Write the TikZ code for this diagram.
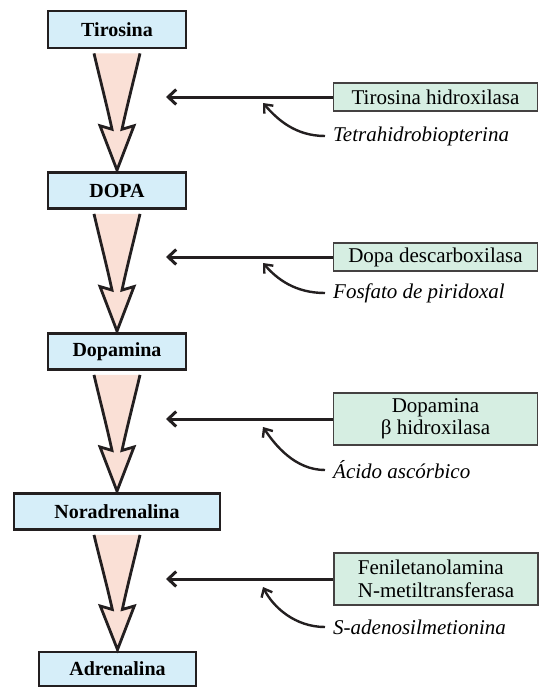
\documentclass[tikz,border=0pt]{standalone}
\usepackage{fontspec}
\setmainfont{Liberation Serif}
\usetikzlibrary{arrows.meta,calc}
\definecolor{bluebox}{RGB}{214,238,249}
\definecolor{greenbox}{RGB}{214,238,226}
\definecolor{pinkfill}{RGB}{250,224,214}
\definecolor{edge}{RGB}{35,31,32}
\newcommand\bigarr[2]{%
  \coordinate (ta) at ($(#1.south)+(0,4)$);
  \coordinate (tb) at ($(#2.north)+(0,-1)$);
  \fill[arrfill] ($(ta)+(-23,0)$) .. controls ($(ta)!0.22!(tb)+(-17,0)$) and ($(ta)!0.45!(tb)+(-10,0)$) .. ($(ta)!0.65!(tb)+(-5,0)$) -- ($(ta)!0.62!(tb)+(-17,0)$) -- (tb) -- ($(ta)!0.62!(tb)+(17,0)$) -- ($(ta)!0.65!(tb)+(5,0)$) .. controls ($(ta)!0.45!(tb)+(10,0)$) and ($(ta)!0.22!(tb)+(17,0)$) .. ($(ta)+(23,0)$) -- cycle;
  \draw[arredge] ($(ta)+(-23,0)$) .. controls ($(ta)!0.22!(tb)+(-17,0)$) and ($(ta)!0.45!(tb)+(-10,0)$) .. ($(ta)!0.65!(tb)+(-5,0)$) -- ($(ta)!0.62!(tb)+(-17,0)$) -- (tb) -- ($(ta)!0.62!(tb)+(17,0)$) -- ($(ta)!0.65!(tb)+(5,0)$) .. controls ($(ta)!0.45!(tb)+(10,0)$) and ($(ta)!0.22!(tb)+(17,0)$) .. ($(ta)+(23,0)$);
}
\begin{document}
\begin{tikzpicture}[x=1pt,y=-1pt,
  mol/.style={draw=edge, line width=2.8pt, fill=bluebox, minimum height=36pt, inner sep=0pt, font=\fontsize{20}{22}\selectfont\bfseries},
  enz/.style={draw=edge!85, line width=1.6pt, fill=greenbox, minimum width=204pt, inner sep=0pt, font=\fontsize{21}{22.5}\selectfont, align=center},
  cof/.style={anchor=west, inner sep=0pt, font=\fontsize{21}{22}\selectfont\itshape},
  inh/.style={draw=edge, line width=3pt, -{Straight Barb[length=8pt,width=15pt]}},
  cur/.style={draw=edge, line width=2.4pt, -{Straight Barb[length=7pt,width=12pt]}},
  arrfill/.style={fill=pinkfill},
  arredge/.style={draw=edge, line width=2.8pt, line join=miter}
]
\useasboundingbox (0,0) rectangle (541,688);
% molecules
\node[mol, minimum width=138pt, minimum height=37pt] (tir) at (117,29.5) {Tirosina};
\node[mol, minimum width=138pt] (dopa) at (117,190.5) {DOPA};
\node[mol, minimum width=138pt] (dopam) at (117,351.5) {Dopamina};
\node[mol, minimum width=206pt] (nor) at (117,511.5) {Noradrenalina};
\node[mol, minimum width=157pt, minimum height=34pt] (adr) at (117.5,669) {Adrenalina};
% big arrows
\bigarr{tir}{dopa}
\bigarr{dopa}{dopam}
\bigarr{dopam}{nor}
\bigarr{nor}{adr}
% enzymes
\node[enz, minimum height=28pt] (e1) at (435.5,97) {Tirosina hidroxilasa};
\node[enz, minimum height=28pt] (e2) at (435.5,257) {Dopa descarboxilasa};
\node[enz, minimum height=52pt] (e3) at (435.5,419) {Dopamina\\β hidroxilasa};
\node[enz, minimum height=52pt, align=left] (e4) at (436,579) {Feniletanolamina\\N-metiltransferasa};
% cofactors
\node[cof] (c1) at (333,136) {Tetrahidrobiopterina};
\node[cof] (c2) at (333,293) {Fosfato de piridoxal};
\node[cof] (c3) at (333,470) {Ácido ascórbico};
\node[cof] (c4) at (333,627) {S-adenosilmetionina};
% arrow ends
\coordinate (hx) at (166,0);
\coordinate (tx) at (263,0);
\draw[inh] (e1.west) -- (e1.west -| hx);
\draw[inh] (e2.west) -- (e2.west -| hx);
\draw[inh] (e3.west) -- (e3.west -| hx);
\draw[inh] (e4.west) -- (e4.west -| hx);
\coordinate (t1) at ($(e1.west -| tx)+(0,6)$);
\coordinate (t2) at ($(e2.west -| tx)+(0,6)$);
\coordinate (t3) at ($(e3.west -| tx)+(0,8)$);
\coordinate (t4) at ($(e4.west -| tx)+(0,8)$);
\draw[cur] ([xshift=-8pt]c1.west) .. controls +(-30,0) and +(14,16) .. (t1);
\draw[cur] ([xshift=-8pt]c2.west) .. controls +(-30,0) and +(14,16) .. (t2);
\draw[cur] ([xshift=-8pt]c3.west) .. controls +(-30,0) and +(12,18) .. (t3);
\draw[cur] ([xshift=-8pt]c4.west) .. controls +(-30,0) and +(10,20) .. (t4);
\end{tikzpicture}
\end{document}
